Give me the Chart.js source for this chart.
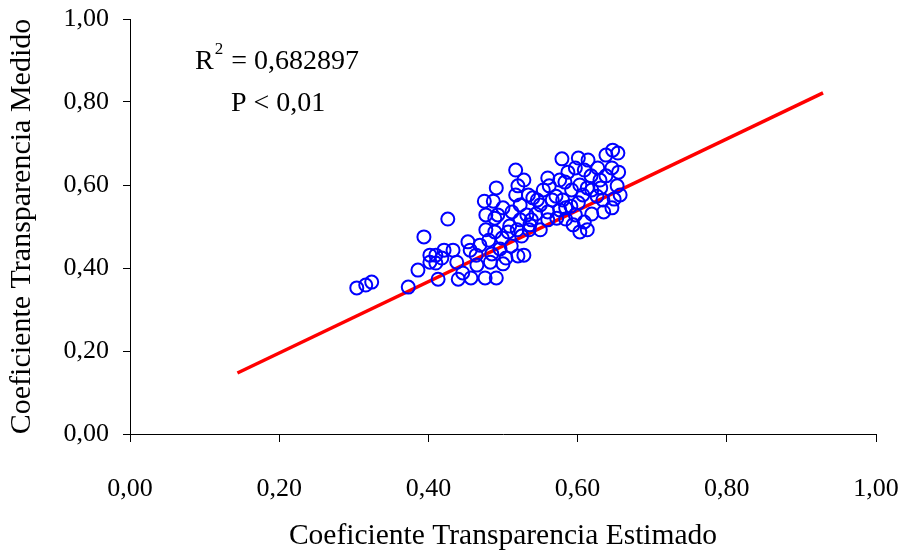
<!DOCTYPE html>
<html>
<head>
<meta charset="utf-8">
<script src="https://cdn.jsdelivr.net/npm/chart.js@4"></script>
<style>
  html, body { margin: 0; padding: 0; background: #fff; }
  #wrap { width: 904px; height: 554px; }
</style>
</head>
<body>
<div id="wrap"><canvas id="scatterChart" width="904" height="554"></canvas></div>
<script>
// Coeficiente estimado (x) y medido (y)
const estimado = [
  0.304, 0.316, 0.324, 0.373, 0.386, 0.394, 0.426, 0.402, 0.410, 0.418,
  0.433, 0.438, 0.453, 0.410, 0.440, 0.457, 0.465, 0.483, 0.476, 0.491,
  0.496, 0.500, 0.504, 0.511, 0.520, 0.528, 0.525, 0.536, 0.475, 0.487,
  0.493, 0.477, 0.489, 0.477, 0.489, 0.500, 0.512, 0.517, 0.520, 0.517,
  0.528, 0.534, 0.540, 0.550, 0.560, 0.550, 0.535, 0.523, 0.538, 0.544,
  0.554, 0.562, 0.576, 0.571, 0.580, 0.584, 0.591, 0.601, 0.592, 0.583,
  0.587, 0.597, 0.579, 0.601, 0.609, 0.618, 0.613, 0.619, 0.626, 0.631,
  0.638, 0.646, 0.638, 0.647, 0.654, 0.655, 0.653, 0.649, 0.657, 0.646,
  0.635, 0.619, 0.609, 0.603, 0.613, 0.560, 0.584, 0.594, 0.614, 0.627,
  0.630, 0.560, 0.509, 0.519, 0.469, 0.464, 0.485, 0.446, 0.421, 0.402,
  0.413, 0.491, 0.546, 0.566, 0.576, 0.603, 0.607, 0.634, 0.597, 0.572,
  0.523, 0.532, 0.499, 0.507, 0.481, 0.456
];
const medido = [
  0.352, 0.359, 0.366, 0.354, 0.395, 0.475, 0.518, 0.431, 0.431, 0.424,
  0.443, 0.414, 0.463, 0.412, 0.373, 0.376, 0.407, 0.414, 0.376, 0.376,
  0.446, 0.410, 0.424, 0.453, 0.429, 0.431, 0.477, 0.504, 0.561, 0.561,
  0.528, 0.528, 0.520, 0.492, 0.487, 0.545, 0.535, 0.576, 0.598, 0.636,
  0.612, 0.576, 0.569, 0.552, 0.535, 0.492, 0.492, 0.516, 0.516, 0.530,
  0.588, 0.598, 0.612, 0.573, 0.564, 0.545, 0.549, 0.557, 0.588, 0.607,
  0.631, 0.641, 0.663, 0.665, 0.636, 0.622, 0.593, 0.588, 0.573, 0.593,
  0.622, 0.641, 0.672, 0.684, 0.677, 0.631, 0.598, 0.566, 0.576, 0.545,
  0.535, 0.530, 0.511, 0.487, 0.492, 0.516, 0.518, 0.504, 0.660, 0.641,
  0.612, 0.617, 0.501, 0.492, 0.455, 0.431, 0.434, 0.388, 0.443, 0.414,
  0.373, 0.593, 0.564, 0.564, 0.540, 0.600, 0.576, 0.564, 0.528, 0.520,
  0.552, 0.528, 0.472, 0.487, 0.467, 0.443
];

// Recta de regresión (extremos)
const rectaX = [0.144, 0.929];
const rectaY = [0.147, 0.822];

const ejeTicks = [0, 0.2, 0.4, 0.6, 0.8, 1.0];
const textoR2 = '0,682897';
const textoP = 'P < 0,01';

const FUENTE = '"Liberation Serif", "Times New Roman", serif';

function formatoComa(v) {
    return Number(v).toFixed(2).replace('.', ',');
}

// Texto de R² y P dentro del gráfico
const anotaciones = {
    id: 'anotaciones',
    afterDraw(chart) {
        const ctx = chart.ctx;
        ctx.save();
        ctx.fillStyle = '#000';
        ctx.textBaseline = 'alphabetic';
        ctx.textAlign = 'left';
        ctx.font = '28px ' + FUENTE;
        let x = 195;
        ctx.fillText('R', x, 69);
        x += ctx.measureText('R').width;
        ctx.font = '17px ' + FUENTE;
        ctx.fillText('2', x + 1, 54);
        x += ctx.measureText('2').width + 2;
        ctx.font = '28px ' + FUENTE;
        ctx.fillText(' = ' + textoR2, x, 69);
        ctx.fillText(textoP, 231, 111);
        ctx.restore();
    }
};

function initScatterChart() {
    const ctx = document.getElementById('scatterChart').getContext('2d');

    const puntos = estimado.map((v, i) => ({ x: v, y: medido[i] }));
    const recta = rectaX.map((v, i) => ({ x: v, y: rectaY[i] }));

    new Chart(ctx, {
        type: 'scatter',
        data: {
            datasets: [
                {
                    label: 'Medido',
                    data: puntos,
                    borderColor: '#0000FF',
                    backgroundColor: 'rgba(0,0,0,0)',
                    borderWidth: 2,
                    pointRadius: 6.5,
                    pointHoverRadius: 6.5
                },
                {
                    type: 'line',
                    label: 'Recta',
                    data: recta,
                    borderColor: '#FF0000',
                    borderWidth: 3.5,
                    pointRadius: 0,
                    fill: false
                }
            ]
        },
        options: {
            responsive: false,
            animation: false,
            layout: { padding: { left: 0, right: 28, top: 19, bottom: 0 } },
            plugins: {
                legend: { display: false },
                tooltip: { enabled: false }
            },
            scales: {
                x: {
                    type: 'linear',
                    min: 0,
                    max: 1,
                    afterBuildTicks: (scale) => { scale.ticks = ejeTicks.map(v => ({ value: v })); },
                    afterFit: (scale) => {
                        scale.height = 120;
                        scale.paddingLeft = 0;
                        scale.paddingRight = 0;
                    },
                    border: { display: true, color: '#000', width: 1 },
                    grid: { drawOnChartArea: false, drawTicks: true, tickLength: 8, color: '#000' },
                    ticks: {
                        color: '#000',
                        padding: 32,
                        maxRotation: 0,
                        font: { family: FUENTE, size: 26 },
                        callback: (v) => formatoComa(v)
                    },
                    title: {
                        display: true,
                        text: 'Coeficiente Transparencia Estimado',
                        color: '#000',
                        padding: { top: 0, bottom: 0 },
                        font: { family: FUENTE, size: 29.5 }
                    }
                },
                y: {
                    type: 'linear',
                    min: 0,
                    max: 1,
                    afterBuildTicks: (scale) => { scale.ticks = ejeTicks.map(v => ({ value: v })); },
                    afterFit: (scale) => {
                        scale.width = 130;
                        scale.paddingTop = 0;
                        scale.paddingBottom = 0;
                    },
                    border: { display: true, color: '#000', width: 1 },
                    grid: { drawOnChartArea: false, drawTicks: true, tickLength: 7, color: '#000' },
                    ticks: {
                        color: '#000',
                        padding: 14,
                        font: { family: FUENTE, size: 26 },
                        callback: (v) => formatoComa(v)
                    },
                    title: {
                        display: true,
                        text: 'Coeficiente Transparencia Medido',
                        color: '#000',
                        padding: { top: 4, bottom: 0 },
                        font: { family: FUENTE, size: 30 }
                    }
                }
            }
        },
        plugins: [anotaciones]
    });
}

document.addEventListener('DOMContentLoaded', () => {
    initScatterChart();
});
</script>
</body>
</html>
